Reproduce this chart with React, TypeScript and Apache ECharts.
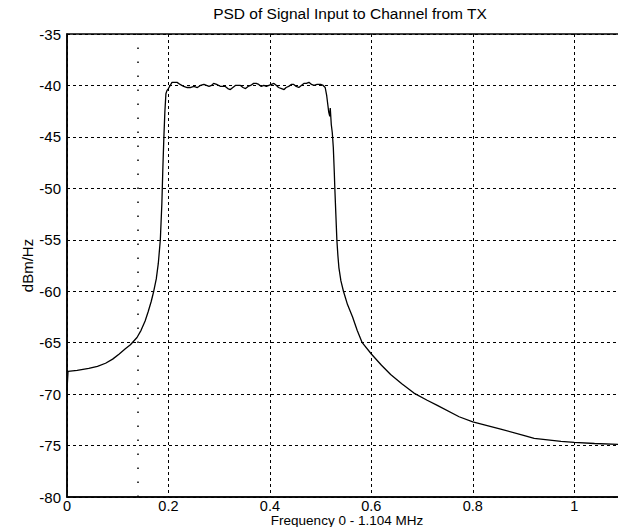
import React, { useEffect, useRef } from "react";
import * as echarts from "echarts";

const freq: number[] = [
  0, 0.002, 0.02, 0.043, 0.06, 0.076, 0.09, 0.103, 0.115, 0.125, 0.138, 0.146, 0.154, 0.16, 0.166, 0.171,
  0.176, 0.18, 0.184, 0.187, 0.189, 0.191, 0.193, 0.195, 0.197, 0.2, 0.207, 0.217, 0.223, 0.23, 0.237,
  0.243, 0.25, 0.257, 0.263, 0.27, 0.275, 0.28, 0.285, 0.289, 0.295, 0.303, 0.312, 0.317, 0.322, 0.327,
  0.332, 0.337, 0.342, 0.347, 0.352, 0.357, 0.362, 0.368, 0.373, 0.378, 0.383, 0.388, 0.393, 0.398,
  0.403, 0.408, 0.413, 0.417, 0.423, 0.428, 0.432, 0.437, 0.442, 0.447, 0.452, 0.457, 0.462, 0.467,
  0.472, 0.477, 0.482, 0.487, 0.493, 0.5, 0.505, 0.509, 0.512, 0.514, 0.516, 0.518, 0.519, 0.521, 0.523,
  0.525, 0.527, 0.528, 0.53, 0.532, 0.534, 0.536, 0.54, 0.545, 0.553, 0.563, 0.572, 0.582, 0.6, 0.62,
  0.638, 0.66, 0.684, 0.71, 0.73, 0.773, 0.8, 0.855, 0.9, 0.921, 0.974, 1.0, 1.04, 1.09, 1.104,
];

const psd: number[] = [
  -69.6, -67.8, -67.7, -67.5, -67.3, -67.0, -66.6, -66.1, -65.6, -65.2, -64.5, -63.8, -62.9, -62.0, -61.0, -60.0,
  -58.8, -57.3, -55.0, -51.5, -48.0, -45.0, -42.5, -40.8, -40.5, -40.3, -39.7, -39.7, -39.9, -40.1, -40.2,
  -40.2, -40.1, -40.2, -40.0, -39.9, -40.0, -40.1, -40.0, -39.8, -39.9, -40.1, -40.1, -40.3, -40.4, -40.2,
  -40.0, -40.0, -40.0, -40.2, -40.3, -40.1, -40.0, -39.8, -39.8, -39.9, -40.1, -40.0, -40.1, -40.0,
  -39.9, -39.8, -40.0, -40.2, -40.3, -40.4, -40.2, -40.1, -39.9, -39.9, -40.1, -40.2, -40.0, -39.8,
  -39.8, -39.7, -39.9, -40.0, -39.9, -39.9, -40.0, -40.2, -41.0, -41.8, -42.6, -43.0, -42.2, -43.8, -44.6,
  -46.0, -48.5, -50.0, -52.5, -55.0, -56.5, -57.7, -59.0, -60.0, -61.3, -62.5, -63.8, -65.0, -66.1, -67.2,
  -68.1, -69.0, -69.9, -70.6, -71.1, -72.2, -72.7, -73.4, -74.0, -74.3, -74.6, -74.7, -74.8, -74.9, -74.9,
];

const markerFreq: number[] = [0.139];

const titleText = "PSD of Signal Input to Channel from TX";
const xName = "Frequency 0 - 1.104 MHz";
const yName = "dBm/Hz";

const FONT = "Liberation Sans";
const FS = 15;

export default function App() {
  const ref = useRef<HTMLDivElement>(null);
  useEffect(() => {
    if (!ref.current) return;
    const chart = echarts.init(ref.current, null, { renderer: "svg" });
    const gridDash = { color: "#000", width: 1, type: [3, 3] as number[] };
    chart.setOption({
      animation: false,
      backgroundColor: "#fff",
      title: {
        text: titleText,
        left: 345,
        top: 0,
        textAlign: "center",
        textStyle: { fontFamily: FONT, fontSize: 15.5, fontWeight: "normal", color: "#000" },
      },
      grid: {
        left: 67,
        right: -9,
        top: 34,
        bottom: 30,
        outerBoundsMode: "none",
        containLabel: false,
        show: true,
        borderColor: "#000",
        borderWidth: 1.5,
        backgroundColor: "transparent",
      },
      xAxis: {
        type: "value",
        min: 0,
        max: 1.104,
        interval: 0.2,
        name: xName,
        nameLocation: "middle",
        nameGap: 17,
        nameMoveOverlap: false,
        nameTextStyle: { fontFamily: FONT, fontSize: 13.5, lineHeight: 13, color: "#000" },
        axisLine: { show: true, onZero: false, lineStyle: { color: "#000", width: 1.5 } },
        axisTick: { show: false },
        axisLabel: {
          fontFamily: FONT,
          fontSize: 14.5,
          lineHeight: 14,
          color: "#000",
          margin: 2,
          showMaxLabel: false,
          formatter: (v: number) => String(Math.round(v * 10) / 10),
        },
        splitLine: { show: true, lineStyle: gridDash },
      },
      yAxis: {
        type: "value",
        min: -80,
        max: -35,
        interval: 5,
        name: yName,
        nameLocation: "middle",
        nameGap: 32,
        nameMoveOverlap: false,
        nameTextStyle: { fontFamily: FONT, fontSize: FS, color: "#000" },
        axisLine: { show: true, onZero: false, lineStyle: { color: "#000", width: 1.5 } },
        axisTick: { show: false },
        axisLabel: { fontFamily: FONT, fontSize: FS, color: "#000", margin: 6 },
        splitLine: { show: true, lineStyle: gridDash },
      },
      series: [
        {
          type: "line",
          data: freq.map((f, i) => [f, psd[i]]),
          showSymbol: false,
          symbol: "none",
          lineStyle: { color: "#000", width: 1.3 },
          markLine: {
            silent: true,
            symbol: "none",
            label: { show: false },
            lineStyle: { color: "#000", width: 1.5, type: [1.5, 12.5] },
            data: markerFreq.map((x) => ({ xAxis: x })),
          },
        },
      ],
    });
    return () => chart.dispose();
  }, []);
  return (
    <div
      ref={ref}
      style={{ position: "absolute", left: 0, top: 0, width: 618, height: 527 }}
    />
  );
}
